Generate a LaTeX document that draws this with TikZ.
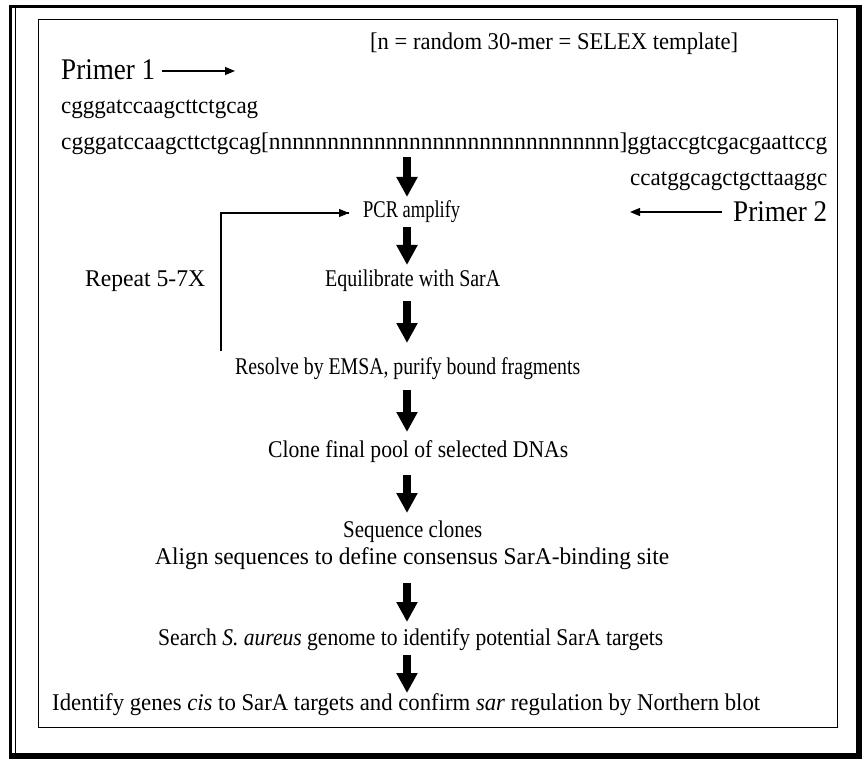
\documentclass[tikz,border=0pt]{standalone}
\usepackage{fontspec}
\setmainfont{Liberation Serif}
\usetikzlibrary{arrows.meta}
\newcommand\fitw[2]{\resizebox{#1pt}{\height}{#2}}
\begin{document}
\begin{tikzpicture}[x=1pt,y=-1pt,
  txt/.style={anchor=base west, inner sep=0pt, font=\fontsize{24}{28}\selectfont},
  big/.style={anchor=base west, inner sep=0pt, font=\fontsize{30}{34}\selectfont},
  bigarrow/.style={line width=8pt, -{Triangle[width=20pt,length=20pt]}},
  thinarrow/.style={line width=1.2pt, -{Triangle[width=8pt,length=10pt]}},
  loopline/.style={line width=1.2pt}]
\useasboundingbox (0,0) rectangle (867,759);
% frame
\draw[line width=3pt] (9,6.5) -- (862,6.5);
\draw[line width=3pt] (10.5,5) -- (10.5,757);
\draw[line width=1.8pt] (15.5,8) -- (15.5,754);
\fill (856,5) rectangle (862,759);
\fill (9,753) rectangle (862,759);
\draw[line width=1pt] (38.5,19.5) rectangle (837.5,727.5);
% texts
\node[txt] (tmpl) at (370,50) {\fitw{368}{[n = random 30-mer = SELEX template]}};
\node[big] (p1) at (61,80) {\fitw{94}{Primer 1}};
\node[txt] (s1) at (61,114) {\fitw{197}{cgggatccaagcttctgcag}};
\node[txt] (s2) at (61,150) {\fitw{766}{cgggatccaagcttctgcag[nnnnnnnnnnnnnnnnnnnnnnnnnnnnnn]ggtaccgtcgacgaattccg}};
\node[txt] (s3) at (630,186) {\fitw{197}{ccatggcagctgcttaaggc}};
\node[big] (p2) at (733,222) {\fitw{94}{Primer 2}};
\node[txt] (pcr) at (363,218) {\fitw{97}{PCR amplify}};
\node[txt] (rep) at (85,287) {\fitw{120}{Repeat 5-7X}};
\node[txt] (eq) at (325,287) {\fitw{175}{Equilibrate with SarA}};
\node[txt] (res) at (235,374) {\fitw{345}{Resolve by EMSA, purify bound fragments}};
\node[txt] (clo) at (268,457) {\fitw{300}{Clone final pool of selected DNAs}};
\node[txt] (seq) at (343,537) {\fitw{139}{Sequence clones}};
\node[txt] (ali) at (155,564) {\fitw{514}{Align sequences to define consensus SarA-binding site}};
\node[txt] (sea) at (158,645) {\fitw{505}{Search \textit{S. aureus} genome to identify potential SarA targets}};
\node[txt] (ide) at (52,710) {\fitw{708}{Identify genes \textit{cis} to SarA targets and confirm \textit{sar} regulation by Northern blot}};
% primer arrows
\coordinate (p1a) at (162,71);
\coordinate (p1b) at (235,71);
\draw[thinarrow] (p1a) -- (p1b);
\coordinate (p2a) at (722,212);
\coordinate (p2b) at (630,212);
\draw[thinarrow] (p2a) -- (p2b);
% loop
\coordinate (lp0) at (221,351);
\coordinate (lp1) at (221,213);
\coordinate (lp2) at (349,213);
\draw[loopline] (lp0) -- (lp1) -- (lp2);
\draw[thinarrow] (lp1) -- (lp2);
% big arrows
\foreach \n/\a/\b in {1/157/197, 2/227/265, 3/301/343, 4/390/432, 5/475/513, 6/583/622, 7/655/693}{
  \coordinate (ba\n) at (407,\a);
  \coordinate (bb\n) at (407,\b);
  \draw[bigarrow] (ba\n) -- (bb\n);
}
\end{tikzpicture}
\end{document}
